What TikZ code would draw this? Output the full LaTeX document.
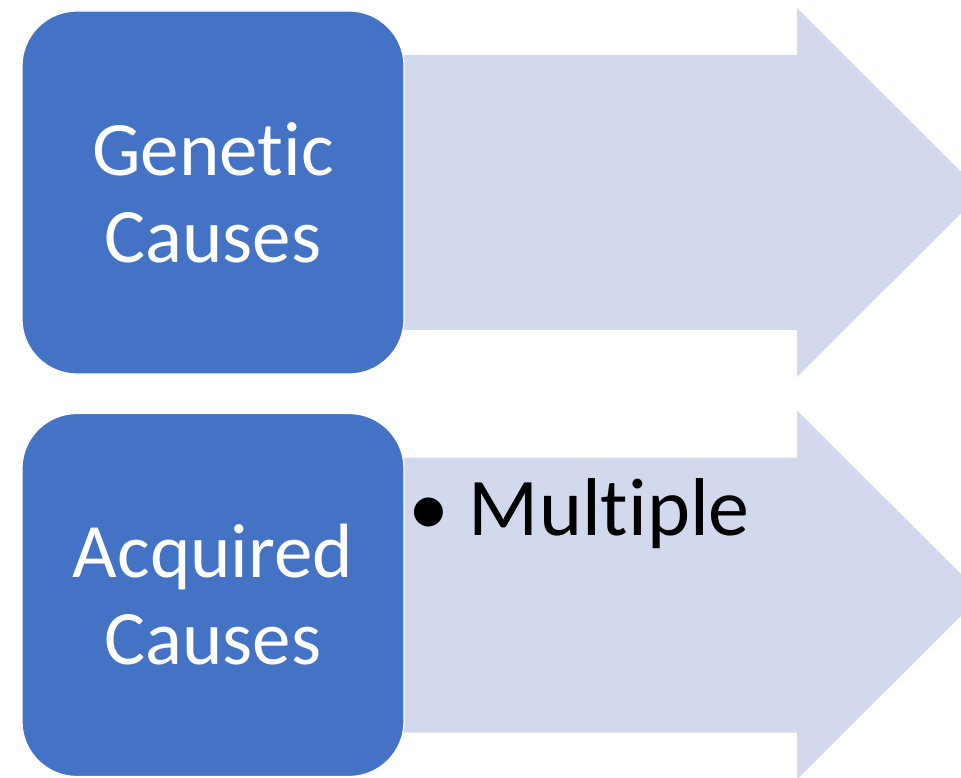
\documentclass[tikz,border=0pt]{standalone}
\usepackage{fontspec}
\setmainfont{Carlito}[Ligatures=NoCommon]
\usepackage{tikz}
\usetikzlibrary{positioning,calc}
\definecolor{boxblue}{HTML}{4472C4}
\definecolor{bandblue}{HTML}{D3D9EC}

\begin{document}
\begin{tikzpicture}[
		x=1pt, y=-1pt,
		every node/.style={align=center},
		cause/.style={rectangle, rounded corners=55pt, fill=boxblue, draw=white,
				line width=1.2pt, minimum width=382pt, minimum height=363pt,
				inner sep=0pt, text=white, font=\fontsize{77}{87}\selectfont},
		band/.style={fill=bandblue},
		item/.style={inner sep=0pt, text=black, font=\fontsize{82}{90}\selectfont},
		]

		\path[use as bounding box, clip] (0,0) rectangle (961,778);

		% arrows behind the boxes
		\fill[band] (300,55) -- (797,55) -- (797,8) -- (982,192.5)
			-- (797,377) -- (797,330) -- (300,330) -- cycle;
		\fill[band] (300,457.5) -- (797,457.5) -- (797,410.5) -- (982,595)
			-- (797,779.5) -- (797,732.5) -- (300,732.5) -- cycle;

		\node[cause] (genetic)  at (213,192.5) {Genetic \\ Causes};
		\node[cause] (acquired) at (213,595)   {Acquired \\ Causes};

		\node[item, anchor=base west] (multi) at (408,535)
		{\textbullet\hspace{20pt}Multiple};

	\end{tikzpicture}
\end{document}
